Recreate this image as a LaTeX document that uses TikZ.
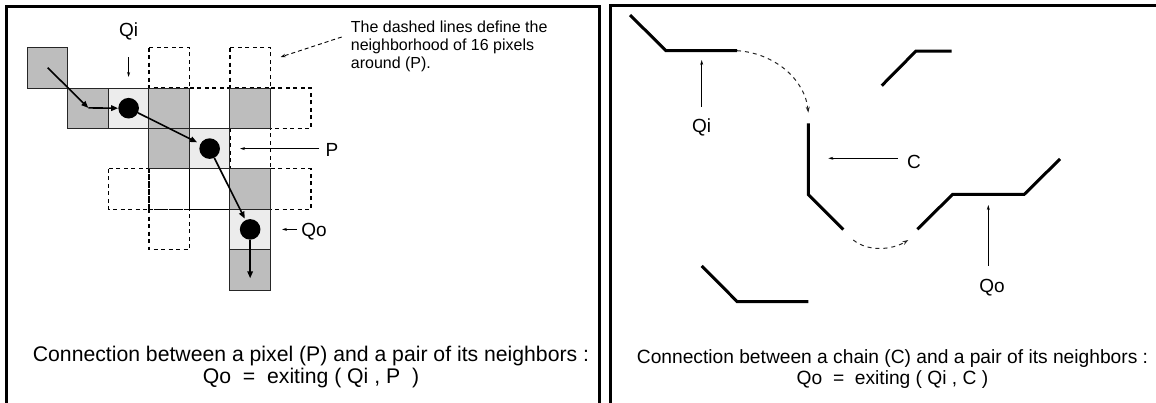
\documentclass[tikz,border=0pt]{standalone}
\usepackage{fontspec}
\setmainfont{Liberation Sans}
\usetikzlibrary{arrows.meta}
\definecolor{cellgray}{RGB}{189,189,189}
\definecolor{celllight}{RGB}{236,236,236}
\newcommand\pcell[3]{\draw[#3] ({27.4+40.5*#1},{47.6+40.4*#2}) rectangle ++(40.5,40.4);}
\begin{document}
\begin{tikzpicture}[x=1pt,y=-1pt,
  panel/.style={line width=3pt},
  graycell/.style={fill=cellgray,draw=black!85,line width=1pt},
  lightcell/.style={fill=celllight,draw=black!85,line width=1pt},
  whitecell/.style={draw=black,line width=0.9pt},
  nbcell/.style={draw=black,line width=1.3pt,dash pattern=on 4pt off 3.5pt},
  dot/.style={circle,fill=black,inner sep=0pt,minimum size=20.6pt},
  pxarrow/.style={line width=1.6pt,-{Triangle[length=7pt,width=5.5pt]}},
  lbl/.style={font=\fontsize{19}{22}\selectfont,inner sep=0pt},
  ptr/.style={line width=0.8pt,-{Stealth[length=5pt,width=3pt]}},
  dptr/.style={line width=0.9pt,dash pattern=on 4pt off 3pt,-{Stealth[length=5pt,width=3.5pt]}},
  chain/.style={line width=3pt,line join=miter},
  curve/.style={line width=1pt,black!85,dash pattern=on 4pt off 4pt,-{Stealth[length=6pt,width=4pt]}},
  caption/.style={align=center,inner sep=0pt}
]
\useasboundingbox (0,0) rectangle (1156,402);
% panels
\draw[panel] (6.5,410) -- (6.5,6.5) -- (599,6.5) -- (599,410);
\draw[panel] (610,410) -- (610,5.5) -- (1165,5.5);

% ---------- left panel: pixel grid ----------
% neighbourhood (dashed) cells
\pcell{3}{0}{nbcell}
\pcell{5}{0}{nbcell}
\pcell{6}{1}{nbcell}
\pcell{6}{3}{nbcell}
\pcell{2}{3}{nbcell}
\pcell{3}{4}{nbcell}
\pcell{4}{1}{nbcell}
\pcell{5}{2}{nbcell}
\pcell{3}{3}{nbcell}
% solid cells
\pcell{4}{3}{whitecell}
\pcell{0}{0}{graycell}
\pcell{1}{1}{graycell}
\pcell{2}{1}{lightcell}
\pcell{3}{1}{graycell}
\pcell{5}{1}{graycell}
\pcell{3}{2}{graycell}
\pcell{4}{2}{lightcell}
\pcell{5}{3}{graycell}
\pcell{5}{4}{lightcell}
\pcell{5}{5}{graycell}

% dots
\node[dot] (qi) at ({27.4+40.5*2.5},{47.6+40.4*1.5}) {};
\node[dot] (p)  at ({27.4+40.5*4.5},{47.6+40.4*2.5}) {};
\node[dot] (qo) at ({27.4+40.5*5.5},{47.6+40.4*4.5}) {};
\coordinate (a0) at (47.7,67.7);
\coordinate (a1) at (88.3,107.9);
\coordinate (aend) at ({27.4+40.5*5.5},278.3);
\draw[pxarrow] (a0) -- (a1);
\draw[pxarrow] (a1) -- (qi.west);
\draw[pxarrow,shorten >=3.5pt] (qi) -- (p);
\draw[pxarrow,shorten >=1.5pt] (p) -- (qo);
\draw[pxarrow] (qo) -- (aend);

% labels
\node[lbl] (lqi) at (128.6,31.5) {Qi};
\coordinate (qit) at (128.6,77);
\draw[ptr,shorten <=17pt] (lqi.south) -- (qit);
\node[lbl] (lp) at (332,150) {P};
\coordinate (pt) at (240,148.6);
\draw[ptr,shorten <=6pt] (lp.west |- pt) -- (pt);
\node[lbl] (lqo) at (314,232) {Qo};
\coordinate (qot) at (282,229.4);
\draw[ptr,shorten <=4pt] (lqo.west |- qot) -- (qot);

\node[font=\fontsize{16}{18}\selectfont,align=left,anchor=north west,inner sep=0pt] (note) at (350.7,20.6)
  {The dashed lines define the\\neighborhood of 16 pixels\\around (P).};
\coordinate (ns) at (341.7,37);
\coordinate (nt) at (280.7,57);
\draw[dptr] (ns) -- (nt);

\node[caption,font=\fontsize{21.2}{22}\selectfont] (capl) at (311,367)
  {Connection between a pixel (P) and a pair of its neighbors :\\Qo~~=~~exiting ( Qi , P~~)};

% ---------- right panel: chains ----------
\coordinate (ci1) at (630,15);
\coordinate (ci2) at (666,50.7);
\coordinate (ci3) at (737,50.7);
\draw[chain] (ci1) -- (ci2) -- (ci3);
\coordinate (cc1) at (808.3,123.3);
\coordinate (cc2) at (808.3,194.5);
\coordinate (cc3) at (843.3,229.5);
\draw[chain] (cc1) -- (cc2) -- (cc3);
\coordinate (co1) at (917.3,229.3);
\coordinate (co2) at (952.7,194.3);
\coordinate (co3) at (1024.3,194.3);
\coordinate (co4) at (1060,159);
\draw[chain] (co1) -- (co2) -- (co3) -- (co4);
\coordinate (cx1) at (881.7,85.7);
\coordinate (cx2) at (916,51);
\coordinate (cx3) at (951.7,51);
\draw[chain] (cx1) -- (cx2) -- (cx3);
\coordinate (cy1) at (701.7,266);
\coordinate (cy2) at (737.3,301.7);
\coordinate (cy3) at (808.3,301.7);
\draw[chain] (cy1) -- (cy2) -- (cy3);

\coordinate (k1) at (808.3,112.7);
\draw[curve] (ci3) .. controls (775,53) and (805,80) .. (k1);
\coordinate (k2s) at (853.3,240);
\coordinate (k2e) at (908.3,240);
\draw[curve] (k2s) .. controls (868,252) and (892,250) .. (k2e);

\node[lbl] (rqi) at (701.7,127.5) {Qi};
\coordinate (rqit) at (701.7,60);
\draw[ptr,shorten <=12pt] (rqi.north) -- (rqit);
\node[lbl] (rc) at (914,162) {C};
\coordinate (rct) at (828.3,158.3);
\draw[ptr,shorten <=9pt] (rc.west |- rct) -- (rct);
\node[lbl] (rqo) at (992,287.5) {Qo};
\coordinate (rqot) at (988.3,205);
\draw[ptr,shorten <=13pt] (rqo.north -| rqot) -- (rqot);

\node[caption,font=\fontsize{19.2}{21}\selectfont] (capr) at (892.5,369.5)
  {Connection between a chain (C) and a pair of its neighbors :\\Qo~~=~~exiting ( Qi , C )};
\end{tikzpicture}
\end{document}
